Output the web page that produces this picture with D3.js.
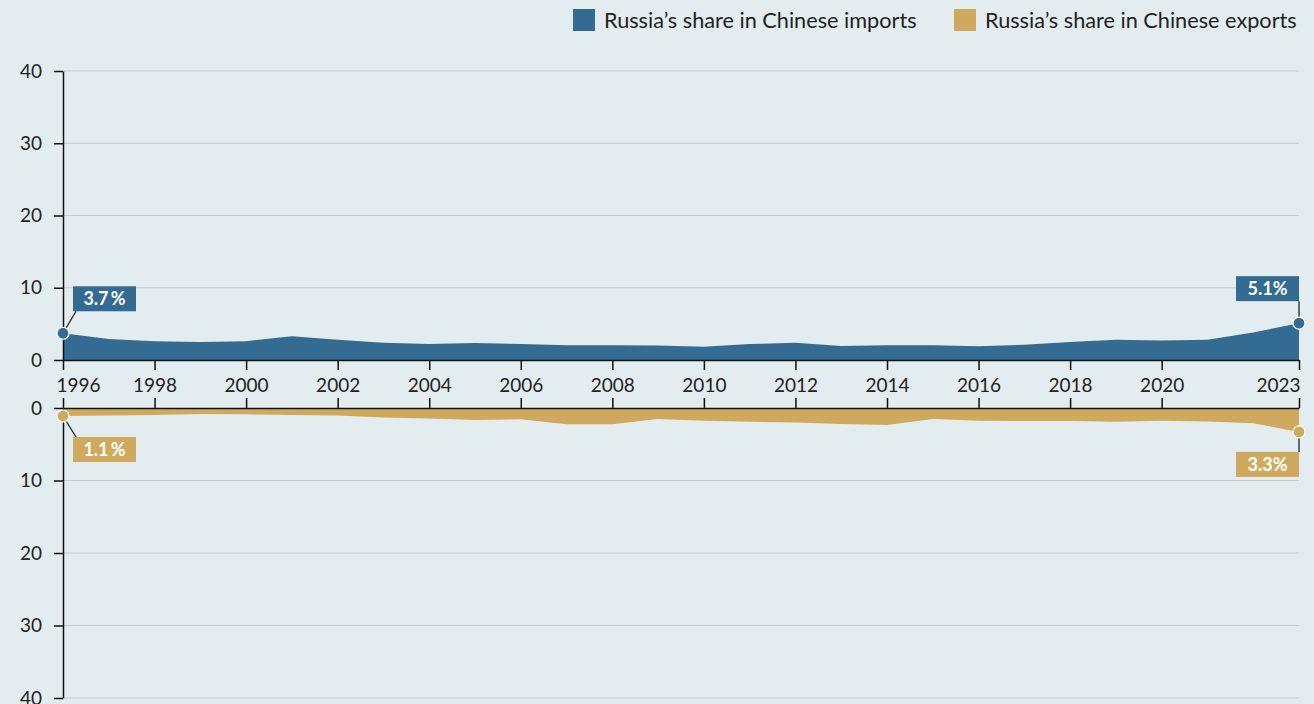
<!DOCTYPE html>
<html>
<head>
<meta charset="utf-8">
<script src="https://cdn.jsdelivr.net/npm/d3@7"></script>
<style>
  body { margin: 0; background: #e3ecef; }
  svg { display: block; font-family: Lato, "Noto Sans", sans-serif; }
</style>
</head>
<body>
<svg id="chart" width="1314" height="704"></svg>
<script>
let years = d3.range(1996, 2024);
let imports = [3.7, 2.9, 2.6, 2.5, 2.6, 3.3, 2.8, 2.4, 2.2, 2.35, 2.2, 2.05, 2.05, 2.0,
  1.85, 2.2, 2.4, 1.95, 2.05, 2.05, 1.9, 2.1, 2.5, 2.8, 2.7, 2.8, 3.8, 5.1];
let exports = [1.1, 1.05, 0.97, 0.83, 0.87, 0.95, 1.05, 1.3, 1.45, 1.65, 1.55, 2.25, 2.25, 1.5,
  1.75, 1.9, 2.0, 2.2, 2.35, 1.5, 1.75, 1.8, 1.8, 1.9, 1.75, 1.85, 2.1, 3.3];
let yearTicks = [1996, 1998, 2000, 2002, 2004, 2006, 2008, 2010, 2012, 2014, 2016, 2018, 2020, 2023];
let valueTicks = [0, 10, 20, 30, 40];
let seriesNames = ["Russia\u2019s share in Chinese imports", "Russia\u2019s share in Chinese exports"];

let colImp = "#336b92";
let colExp = "#cfaa5e";
let gridCol = "#c3cbcf";
let textCol = "#222";

let svg = d3.select("#chart");
let left = 63, right = 1299;

let xScale = d3.scaleLinear().domain([1996, 2023]).range([left, right]);
let yTop = d3.scaleLinear().domain([0, 40]).range([360, 71]);
let yBot = d3.scaleLinear().domain([0, 40]).range([408, 698]);

// grid lines
[yTop, yBot].forEach(function(ys) {
  svg.append("g")
    .selectAll("line")
    .data(valueTicks.filter(function(d) { return d > 0; }))
    .enter().append("line")
    .attr("x1", left).attr("x2", right)
    .attr("y1", function(d) { return ys(d); })
    .attr("y2", function(d) { return ys(d); })
    .style("stroke", gridCol)
    .style("stroke-width", 1.2);
});

// areas
let areaImp = d3.area()
  .x(function(d, i) { return xScale(years[i]); })
  .y0(yTop(0))
  .y1(function(d) { return yTop(d); });
let areaExp = d3.area()
  .x(function(d, i) { return xScale(years[i]); })
  .y0(yBot(0))
  .y1(function(d) { return yBot(d); });

svg.append("path").attr("d", areaImp(imports)).style("fill", colImp);
svg.append("path").attr("d", areaExp(exports)).style("fill", colExp);

// y axes
function styleAxis(g) {
  g.select(".domain").style("stroke", "#111").style("stroke-width", 1.5);
  g.selectAll(".tick line").style("stroke", "#111").style("stroke-width", 1.5);
  g.selectAll(".tick text")
    .style("font-size", "19px")
    .style("fill", textCol)
    .style("font-family", "Lato, 'Noto Sans', sans-serif");
}

svg.append("g")
  .attr("transform", "translate(" + left + ",0)")
  .call(d3.axisLeft(yTop).tickValues(valueTicks).tickSize(9).tickPadding(12).tickSizeOuter(0))
  .call(styleAxis);
svg.append("g")
  .attr("transform", "translate(" + left + ",0)")
  .call(d3.axisLeft(yBot).tickValues(valueTicks).tickSize(9).tickPadding(12).tickSizeOuter(0))
  .call(styleAxis);

// x axes (top panel baseline and bottom panel baseline)
let xTop = svg.append("g")
  .attr("transform", "translate(0," + yTop(0) + ")")
  .call(d3.axisBottom(xScale).tickValues(yearTicks).tickFormat(d3.format("d")).tickSize(10).tickSizeOuter(0).tickPadding(6))
  .call(styleAxis);
xTop.selectAll(".tick text").attr("dy", "0.85em");
xTop.selectAll(".tick text")
  .filter(function(d) { return d === 1996; })
  .attr("text-anchor", "start").attr("x", -7);
xTop.selectAll(".tick text")
  .filter(function(d) { return d === 2023; })
  .attr("text-anchor", "end").attr("x", 1);

svg.append("g")
  .attr("transform", "translate(0," + yBot(0) + ")")
  .call(d3.axisTop(xScale).tickValues(yearTicks).tickFormat("").tickSize(10).tickSizeOuter(0))
  .call(styleAxis);

// annotations
function annotate(val, yr, ys, col, label, side, below) {
  let px = xScale(yr), py = ys(val);
  let bw = 63, bh = 25;
  let bx, by, lx2, ly2;
  if (side === "left") {
    bx = px + 10;
    by = below ? py + 21 : py - 47;
    lx2 = px + 13;
    ly2 = below ? by : by + bh;
  } else {
    bx = px - bw;
    by = below ? py + 20 : py - 47;
    lx2 = px;
    ly2 = below ? by : by + bh;
  }
  svg.append("line")
    .attr("x1", px).attr("y1", py).attr("x2", lx2).attr("y2", ly2)
    .style("stroke", "#222").style("stroke-width", 1.3);
  svg.append("rect")
    .attr("x", bx).attr("y", by).attr("width", bw).attr("height", bh)
    .style("fill", col);
  svg.append("text")
    .attr("x", bx + bw / 2).attr("y", by + bh / 2)
    .attr("dy", "0.36em")
    .attr("text-anchor", "middle")
    .style("fill", "#fff")
    .style("font-weight", "bold")
    .style("font-size", "18px")
    .text(label);
  svg.append("circle")
    .attr("cx", px).attr("cy", py).attr("r", 6)
    .style("fill", col).style("stroke", "#fff").style("stroke-width", 1.2);
}

annotate(imports[0], years[0], yTop, colImp, "3.7\u2009%", "left", false);
annotate(exports[0], years[0], yBot, colExp, "1.1\u2009%", "left", true);
annotate(imports[imports.length - 1], years[years.length - 1], yTop, colImp, "5.1%", "right", false);
annotate(exports[exports.length - 1], years[years.length - 1], yBot, colExp, "3.3%", "right", true);

// legend
let legendItems = [
  { name: seriesNames[0], color: colImp, x: 573 },
  { name: seriesNames[1], color: colExp, x: 954 }
];
let legend = svg.append("g").selectAll("g")
  .data(legendItems)
  .enter().append("g")
  .attr("transform", function(d) { return "translate(" + d.x + ",9)"; });
legend.append("rect")
  .attr("width", 22).attr("height", 22)
  .style("fill", function(d) { return d.color; });
legend.append("text")
  .attr("x", 31).attr("y", 11).attr("dy", "0.36em")
  .style("font-size", "21.7px")
  .style("fill", textCol)
  .text(function(d) { return d.name; });
</script>
</body>
</html>
